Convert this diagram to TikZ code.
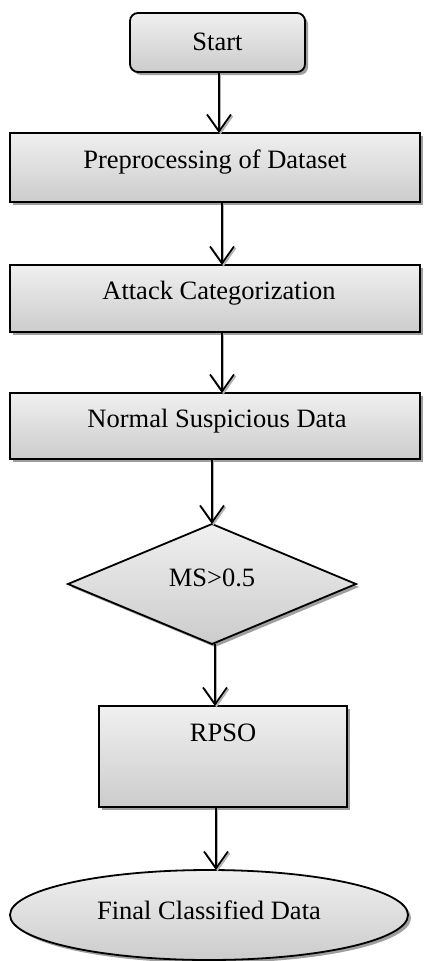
\documentclass[tikz,border=0pt]{standalone}
\usepackage{fontspec}
\setmainfont{Liberation Serif}
\usetikzlibrary{shapes.geometric,shadows,arrows.meta}
\begin{document}
\begin{tikzpicture}[x=1pt,y=-1pt,
  every node/.style={font=\fontsize{26.5}{30}\selectfont},
  shapebase/.style={draw=black, line width=1.8pt, inner sep=0pt, outer sep=0pt,
    top color=gray!12, bottom color=gray!40,
    drop shadow={shadow xshift=3pt, shadow yshift=-3pt, fill=gray!75, opacity=1}},
  boxnode/.style={shapebase, rectangle},
  startnode/.style={shapebase, rectangle, rounded corners=8pt},
  decnode/.style={shapebase, diamond},
  endnode/.style={shapebase, ellipse},
  arr/.style={line width=1.8pt, -{Straight Barb[length=17pt, width=24pt, line width=1.8pt]},
    preaction={draw=gray!60, line width=1.8pt, -{Straight Barb[length=17pt, width=24pt, line width=1.8pt]}, transform canvas={xshift=1.5pt, yshift=-1.5pt}}}
]
\useasboundingbox (0,0) rectangle (423,961);

\node[startnode, minimum width=175pt, minimum height=59pt,
  label={[yshift=1pt]center:Start}] (start) at (217.5,42.5) {};
\node[boxnode, minimum width=410pt, minimum height=69pt,
  label={[yshift=5pt]center:Preprocessing of Dataset}] (pre) at (215,167.5) {};
\node[boxnode, minimum width=410pt, minimum height=67pt,
  label={[yshift=5pt, xshift=4pt]center:Attack Categorization}] (att) at (215,298.5) {};
\node[boxnode, minimum width=410pt, minimum height=66pt,
  label={[yshift=5pt, xshift=2pt]center:Normal Suspicious Data}] (nsd) at (215,426) {};
\node[decnode, minimum width=288pt, minimum height=120pt,
  label={[yshift=6pt]center:MS>0.5}] (dec) at (212,584) {};
\node[boxnode, minimum width=248pt, minimum height=101pt,
  label={[yshift=24pt]center:RPSO}] (rpso) at (223,756.5) {};
\node[endnode, minimum width=398pt, minimum height=90pt,
  label={[yshift=5pt]center:Final Classified Data}] (fin) at (209,915) {};

\draw[arr] ([xshift=1.5pt]start.south) -- ([xshift=1.5pt]start.south |- pre.north);
\draw[arr] ([xshift=7pt]pre.south) -- ([xshift=7pt]pre.south |- att.north);
\draw[arr] ([xshift=7pt]att.south) -- ([xshift=7pt]att.south |- nsd.north);
\draw[arr] (dec.north |- nsd.south) -- (dec.north);
\draw[arr] ([xshift=3pt]dec.south) -- ([xshift=3pt]dec.south |- rpso.north);
\draw[arr] ([xshift=-7pt]rpso.south) -- ([xshift=-7pt]rpso.south |- fin.north);
\end{tikzpicture}
\end{document}
